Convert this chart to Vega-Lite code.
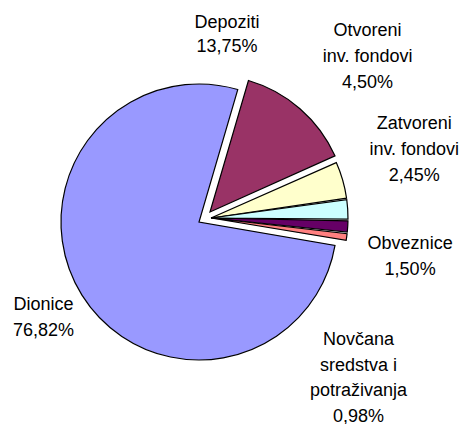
{
  "$schema": "https://vega.github.io/schema/vega-lite/v6.json",
  "width": 398,
  "height": 404,
  "autosize": {"type": "none"},
  "padding": {"left": 0, "top": 20, "right": 69, "bottom": 0},
  "background": "white",
  "config": {"view": {"stroke": null}, "text": {"font": "Liberation Sans"}},
  "data": {
    "values": [
      {"cat": "Depoziti", "value": 13.75, "idx": 1, "label": "Depoziti\n13,75%"},
      {"cat": "Otvoreni inv. fondovi", "value": 4.50, "idx": 2, "label": "Otvoreni\ninv. fondovi\n4,50%"},
      {"cat": "Zatvoreni inv. fondovi", "value": 2.45, "idx": 3, "label": "Zatvoreni\ninv. fondovi\n2,45%"},
      {"cat": "Obveznice", "value": 1.50, "idx": 4, "label": "Obveznice\n1,50%"},
      {"cat": "Novčana sredstva i potraživanja", "value": 0.98, "idx": 5, "label": "Novčana\nsredstva i\npotraživanja\n0,98%"},
      {"cat": "Dionice", "value": 76.82, "idx": 6, "label": "Dionice\n76,82%"}
    ]
  },
  "encoding": {
    "theta": {"field": "value", "type": "quantitative", "stack": true, "scale": {"range": [0.2845, 6.5677]}},
    "order": {"field": "idx", "type": "quantitative", "sort": "ascending"}
  },
  "layer": [
    {
      "mark": {"type": "arc", "outerRadius": 138, "stroke": "black", "strokeWidth": 1.2},
      "encoding": {
        "color": {"field": "cat", "type": "nominal", "legend": null,
          "scale": {"domain": ["Depoziti", "Otvoreni inv. fondovi", "Zatvoreni inv. fondovi", "Obveznice", "Novčana sredstva i potraživanja", "Dionice"],
                    "range": ["#993366", "#FFFFCC", "#CCFFFF", "#660066", "#FF8080", "#9999FF"]}},
        "opacity": {"condition": {"test": "datum.cat === 'Dionice'", "value": 1}, "value": 0}
      }
    },
    {
      "mark": {"type": "arc", "outerRadius": 137, "stroke": "black", "strokeWidth": 1.2, "xOffset": 11, "yOffset": -10},
      "encoding": {
        "color": {"field": "cat", "type": "nominal", "legend": null},
        "opacity": {"condition": {"test": "datum.cat === 'Depoziti'", "value": 1}, "value": 0}
      }
    },
    {
      "mark": {"type": "arc", "outerRadius": 137, "stroke": "black", "strokeWidth": 1.2, "xOffset": 12, "yOffset": -4, "padAngle": 0.012},
      "encoding": {
        "color": {"field": "cat", "type": "nominal", "legend": null},
        "opacity": {"condition": {"test": "datum.cat !== 'Dionice' && datum.cat !== 'Depoziti'", "value": 1}, "value": 0}
      }
    },
    {
      "mark": {"type": "text", "fontSize": 18, "lineBreak": "\n", "lineHeight": 24, "align": "center", "baseline": "middle", "radius": 189, "thetaOffset": -0.5678, "dy": -12, "color": "black"},
      "encoding": {"text": {"condition": {"test": "datum.cat === 'Depoziti'", "field": "label"}, "value": ""}}
    },
    {
      "mark": {"type": "text", "fontSize": 18, "lineBreak": "\n", "lineHeight": 26, "align": "center", "baseline": "middle", "radius": 236, "thetaOffset": -0.494, "dy": -26, "color": "black"},
      "encoding": {"text": {"condition": {"test": "datum.cat === 'Otvoreni inv. fondovi'", "field": "label"}, "value": ""}}
    },
    {
      "mark": {"type": "text", "fontSize": 18, "lineBreak": "\n", "lineHeight": 26, "align": "center", "baseline": "middle", "radius": 227, "thetaOffset": -0.2606, "dy": -26, "color": "black"},
      "encoding": {"text": {"condition": {"test": "datum.cat === 'Zatvoreni inv. fondovi'", "field": "label"}, "value": ""}}
    },
    {
      "mark": {"type": "text", "fontSize": 18, "lineBreak": "\n", "lineHeight": 26, "align": "center", "baseline": "middle", "radius": 214, "thetaOffset": 0.103, "dy": -13, "color": "black"},
      "encoding": {"text": {"condition": {"test": "datum.cat === 'Obveznice'", "field": "label"}, "value": ""}}
    },
    {
      "mark": {"type": "text", "fontSize": 18, "lineBreak": "\n", "lineHeight": 25.7, "align": "center", "baseline": "middle", "radius": 223.5, "thetaOffset": 0.6365, "dy": -38.5, "color": "black"},
      "encoding": {"text": {"condition": {"test": "datum.cat === 'Novčana sredstva i potraživanja'", "field": "label"}, "value": ""}}
    },
    {
      "mark": {"type": "text", "fontSize": 18, "lineBreak": "\n", "lineHeight": 26, "align": "center", "baseline": "middle", "radius": 182.5, "thetaOffset": 0.007, "dy": -13, "color": "black"},
      "encoding": {"text": {"condition": {"test": "datum.cat === 'Dionice'", "field": "label"}, "value": ""}}
    }
  ]
}
